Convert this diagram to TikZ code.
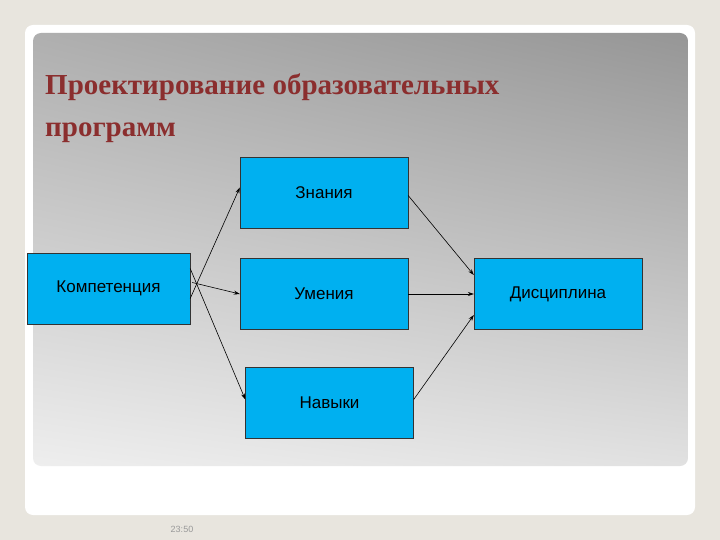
\documentclass[tikz,border=0pt]{standalone}
\usepackage{fontspec}
\setmainfont{Liberation Serif}
\newfontfamily\sansf{Liberation Sans}
\usetikzlibrary{arrows.meta,shadings}
\definecolor{boxc}{HTML}{00B0F0}
\definecolor{titlec}{HTML}{8B2E2E}
\definecolor{bgc}{RGB}{232,229,222}
\definecolor{gur}{RGB}{150,150,150}
\definecolor{gul}{RGB}{175,175,175}
\definecolor{gll}{RGB}{238,238,238}
\definecolor{glr}{RGB}{225,225,225}
\tikzset{bx/.style={draw=black!80,fill=boxc,minimum width=168pt,minimum height=71pt,inner sep=0pt,font=\sansf\fontsize{17}{20}\selectfont},
arr/.style={-{Stealth[length=6pt,width=4pt]},black,line width=0.6pt}}
\begin{document}
\begin{tikzpicture}[x=1pt,y=-1pt]
\useasboundingbox (0,0) rectangle (720,540);
\fill[bgc] (0,0) rectangle (720,540);
\fill[white,rounded corners=8pt] (25,25) rectangle (695,515);
\shade[rounded corners=8pt,upper right=gur,upper left=gul,lower left=gll,lower right=glr] (33,33) rectangle (688,466);
\node[anchor=base west,text=titlec,font=\bfseries\fontsize{29}{34}\selectfont,inner sep=0pt] (t1) at (45,95) {Проектирование образовательных};
\node[anchor=base west,text=titlec,font=\bfseries\fontsize{29}{34}\selectfont,inner sep=0pt] (t2) at (45,137) {программ};
\node[bx,minimum width=163pt] (k) at (108.5,288.5) {Компетенция};
\node[bx] (z) at (324,192.5) {Знания};
\node[bx] (u) at (324,294) {Умения};
\node[bx] (n) at (329.5,402.5) {Навыки};
\node[bx] (d) at (558,294) {Дисциплина};
\draw[arr] ([yshift=-10pt]k.east) -- ([yshift=5pt]z.west);
\draw[arr] ([yshift=6pt,xshift=2pt]k.east) -- (u.west);
\draw[arr] ([yshift=20pt]k.east) -- ([yshift=3pt]n.west);
\draw[arr] ([yshift=-3pt]z.east) -- ([yshift=19pt]d.west);
\draw[arr] (u.east) -- (d.west);
\draw[arr] ([yshift=3pt]n.east) -- ([yshift=-21pt]d.west);
\node[text=black!40,font=\sansf\fontsize{9}{10}\selectfont] (tm) at (182,529) {23:50};
\end{tikzpicture}
\end{document}
